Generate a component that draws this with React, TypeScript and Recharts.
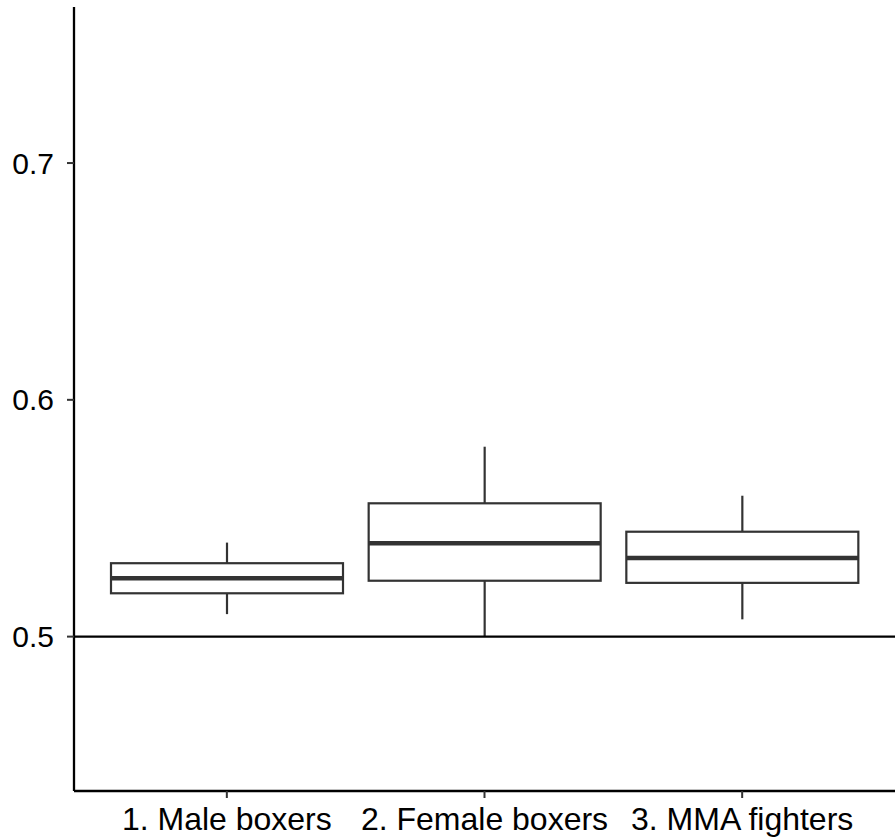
import { ComposedChart, Bar, XAxis, YAxis, ReferenceLine } from 'recharts';

// Box-plot summaries
const groups = ['1. Male boxers', '2. Female boxers', '3. MMA fighters'];
const whiskerLow = [0.5095, 0.5, 0.5073];
const boxLow = [0.5183, 0.5236, 0.5227];
const medians = [0.5247, 0.5394, 0.5332];
const boxHigh = [0.531, 0.5563, 0.5443];
const whiskerHigh = [0.5397, 0.5802, 0.5595];
const yTicks = [0.5, 0.6, 0.7];

const data = groups.map((group, i) => ({
  group,
  range: [whiskerLow[i], whiskerHigh[i]],
  lo: whiskerLow[i],
  q1: boxLow[i],
  med: medians[i],
  q3: boxHigh[i],
  hi: whiskerHigh[i],
}));

const FONT = '"Liberation Sans", Arial, sans-serif';

// The bar spans lo..hi, so map the other stats with the same linear scale
const BoxShape = (props: any) => {
  const { x, y, width, height, payload } = props;
  const { lo, q1, med, q3, hi } = payload;
  const toY = (v: number) => y + ((hi - v) / (hi - lo)) * height;
  const cx = x + width / 2;
  const yQ1 = toY(q1);
  const yQ3 = toY(q3);
  const yMed = toY(med);
  return (
    <g>
      <line x1={cx} x2={cx} y1={y} y2={yQ3} stroke="#333" strokeWidth={2.2} />
      <line x1={cx} x2={cx} y1={yQ1} y2={y + height} stroke="#333" strokeWidth={2.2} />
      <rect x={x} y={yQ3} width={width} height={yQ1 - yQ3} fill="#fff" stroke="#333" strokeWidth={2.2} />
      <line x1={x} x2={x + width} y1={yMed} y2={yMed} stroke="#333" strokeWidth={4.5} />
    </g>
  );
};

export default function App() {
  return (
    <div style={{ position: 'absolute', left: 0, top: 0, background: '#fff' }}>
      <ComposedChart
        width={895}
        height={840}
        data={data}
        margin={{ top: 7, right: 0, bottom: 0, left: 0 }}
      >
        <XAxis
          dataKey="group"
          height={49}
          interval={0}
          padding={{ left: 24, right: 24 }}
          axisLine={{ stroke: '#000', strokeWidth: 2.3 }}
          tickLine={{ stroke: '#333', strokeWidth: 2 }}
          tickSize={7}
          tickMargin={9}
          tick={{ fill: '#000', fontSize: 32, fontFamily: FONT }}
        />
        <YAxis
          type="number"
          domain={[0.4348, 0.7659]}
          ticks={yTicks}
          width={74}
          tickFormatter={(v: number) => v.toFixed(1)}
          axisLine={{ stroke: '#000', strokeWidth: 2.3 }}
          tickLine={{ stroke: '#333', strokeWidth: 2 }}
          tickSize={7}
          tickMargin={13}
          tick={{ fill: '#000', fontSize: 30, fontFamily: FONT }}
        />
        <ReferenceLine y={0.5} stroke="#000" strokeWidth={2.3} />
        <Bar
          dataKey="range"
          barSize={232}
          shape={<BoxShape />}
          isAnimationActive={false}
        />
      </ComposedChart>
    </div>
  );
}
